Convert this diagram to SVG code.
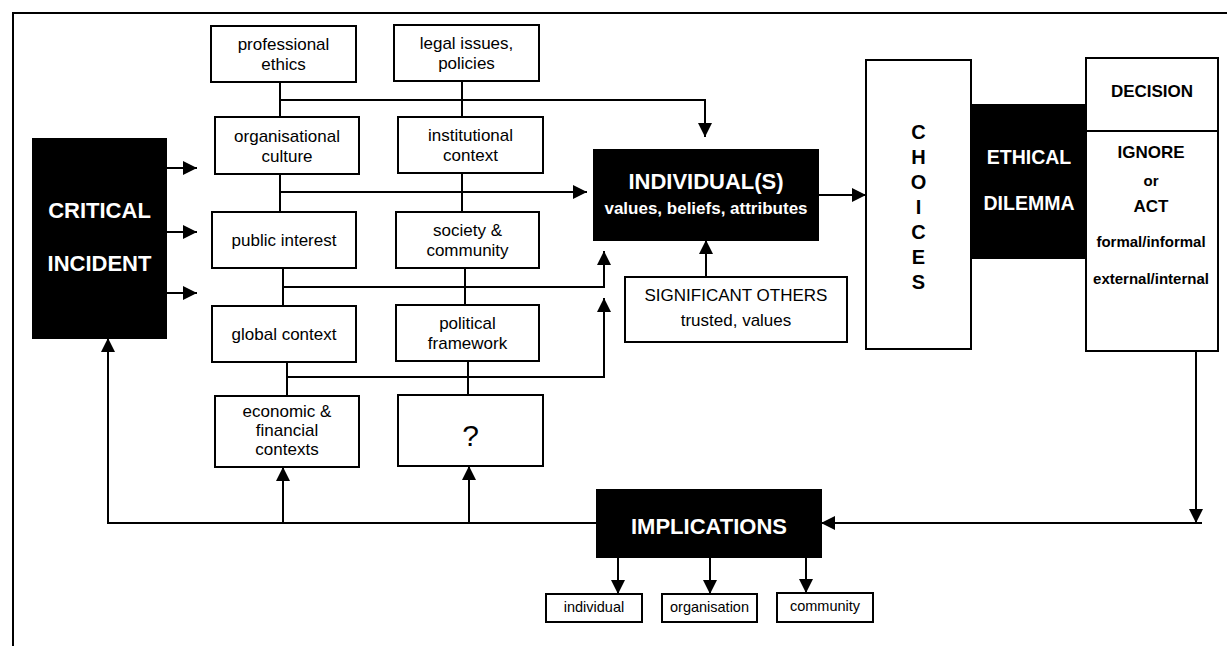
<svg xmlns="http://www.w3.org/2000/svg" width="1227" height="646" viewBox="0 0 1227 646">
<style>
.box{fill:#fff;stroke:#000;stroke-width:2}
.blk{fill:#000;stroke:#000;stroke-width:2}
.t{font-family:"Liberation Sans",Arial,sans-serif;font-size:17px;fill:#000;text-anchor:middle}
.b{font-family:"Liberation Sans",Arial,sans-serif;font-weight:bold;text-anchor:middle}
.w{fill:#fff}
.k{fill:#000}
.ln{fill:none;stroke:#000;stroke-width:2}
.s{font-size:14.5px}
.q{font-size:30px}
</style>
<defs>
<marker id="ah" markerUnits="userSpaceOnUse" markerWidth="14" markerHeight="14" refX="14" refY="7" orient="auto">
<path d="M0,0 L14,7 L0,14 z" fill="#000"/>
</marker>
</defs>
<rect width="1227" height="646" fill="#fff"/>
<path class="ln" d="M13,646 V13 H1227"/>

<g id="connectors">
<path class="ln" d="M280,82 V117"/>
<path class="ln" d="M462,81 V117"/>
<path class="ln" d="M280,100 H705 V137" marker-end="url(#ah)"/>
<path class="ln" d="M280,174 V212"/>
<path class="ln" d="M462,173 V212"/>
<path class="ln" d="M280,192 H587" marker-end="url(#ah)"/>
<path class="ln" d="M283,268 V306"/>
<path class="ln" d="M465,268 V305"/>
<path class="ln" d="M283,287 H604 V251" marker-end="url(#ah)"/>
<path class="ln" d="M287,362 V396"/>
<path class="ln" d="M468,361 V396"/>
<path class="ln" d="M287,377 H604 V298" marker-end="url(#ah)"/>
<path class="ln" d="M166,168 H197" marker-end="url(#ah)"/>
<path class="ln" d="M166,232 H197" marker-end="url(#ah)"/>
<path class="ln" d="M166,293 H197" marker-end="url(#ah)"/>
<path class="ln" d="M818,195 H866" marker-end="url(#ah)"/>
<path class="ln" d="M706,277 V240" marker-end="url(#ah)"/>
<path class="ln" d="M1196,351 V523" marker-end="url(#ah)"/>
<path class="ln" d="M1202,523 H821" marker-end="url(#ah)"/>
<path class="ln" d="M597,523 H108 V338" marker-end="url(#ah)"/>
<path class="ln" d="M283,524 V467" marker-end="url(#ah)"/>
<path class="ln" d="M469,524 V466" marker-end="url(#ah)"/>
<path class="ln" d="M618,557 V594" marker-end="url(#ah)"/>
<path class="ln" d="M710,557 V594" marker-end="url(#ah)"/>
<path class="ln" d="M806,557 V593" marker-end="url(#ah)"/>
</g>

<g id="critical-incident">
<rect class="blk" x="33" y="139" width="133" height="199"/>
<text class="b w" x="99.5" y="218" font-size="22">CRITICAL</text>
<text class="b w" x="99.5" y="271" font-size="22">INCIDENT</text>
</g>

<g id="professional-ethics">
<rect class="box" x="211" y="26" width="145" height="56"/>
<text class="t" x="283.5" y="50">professional</text>
<text class="t" x="283.5" y="70">ethics</text>
</g>
<g id="legal-issues">
<rect class="box" x="394" y="25" width="145" height="56"/>
<text class="t" x="466.5" y="49">legal issues,</text>
<text class="t" x="466.5" y="69">policies</text>
</g>
<g id="organisational-culture">
<rect class="box" x="215" y="117" width="144" height="57"/>
<text class="t" x="287" y="141.5">organisational</text>
<text class="t" x="287" y="161.5">culture</text>
</g>
<g id="institutional-context">
<rect class="box" x="398" y="117" width="145" height="56"/>
<text class="t" x="470.5" y="141">institutional</text>
<text class="t" x="470.5" y="161">context</text>
</g>
<g id="public-interest">
<rect class="box" x="212" y="212" width="144" height="56"/>
<text class="t" x="284" y="246">public interest</text>
</g>
<g id="society-community">
<rect class="box" x="396" y="212" width="143" height="56"/>
<text class="t" x="467.5" y="236">society &amp;</text>
<text class="t" x="467.5" y="256">community</text>
</g>
<g id="global-context">
<rect class="box" x="212" y="306" width="144" height="56"/>
<text class="t" x="284" y="340">global context</text>
</g>
<g id="political-framework">
<rect class="box" x="396" y="305" width="143" height="56"/>
<text class="t" x="467.5" y="329">political</text>
<text class="t" x="467.5" y="349">framework</text>
</g>
<g id="economic-financial">
<rect class="box" x="215" y="396" width="144" height="71"/>
<text class="t" x="287" y="417">economic &amp;</text>
<text class="t" x="287" y="436">financial</text>
<text class="t" x="287" y="455">contexts</text>
</g>
<g id="unknown">
<rect class="box" x="398" y="395" width="145" height="71"/>
<text class="t q" x="470.5" y="446">?</text>
</g>

<g id="individuals">
<rect class="blk" x="594" y="150" width="224" height="90"/>
<text class="b w" x="706" y="189" font-size="22">INDIVIDUAL(S)</text>
<text class="b w" x="706" y="214" font-size="17">values, beliefs, attributes</text>
</g>
<g id="significant-others">
<rect class="box" x="625" y="277" width="222" height="65"/>
<text class="t" x="736" y="301">SIGNIFICANT OTHERS</text>
<text class="t" x="736" y="326">trusted, values</text>
</g>

<g id="choices">
<rect class="box" x="866" y="60" width="105" height="289"/>
<text class="b k" font-size="20" x="918.5" y="139">C</text>
<text class="b k" font-size="20" x="918.5" y="164">H</text>
<text class="b k" font-size="20" x="918.5" y="189">O</text>
<text class="b k" font-size="20" x="918.5" y="214">I</text>
<text class="b k" font-size="20" x="918.5" y="239">C</text>
<text class="b k" font-size="20" x="918.5" y="264">E</text>
<text class="b k" font-size="20" x="918.5" y="289">S</text>
</g>
<g id="ethical-dilemma">
<rect class="blk" x="972" y="105" width="114" height="153"/>
<text class="b w" x="1029" y="164" font-size="19.5">ETHICAL</text>
<text class="b w" x="1029" y="210" font-size="19.5">DILEMMA</text>
</g>
<g id="decision">
<rect class="box" x="1086" y="58" width="132" height="293"/>
<path class="ln" d="M1086,131 H1218"/>
<text class="b k" x="1152" y="97" font-size="17">DECISION</text>
<text class="b k" x="1151" y="158" font-size="17">IGNORE</text>
<text class="b k" x="1151" y="186" font-size="15">or</text>
<text class="b k" x="1151" y="212" font-size="17">ACT</text>
<text class="b k" x="1151" y="247" font-size="15">formal/informal</text>
<text class="b k" x="1151" y="284" font-size="15">external/internal</text>
</g>

<g id="implications">
<rect class="blk" x="597" y="490" width="224" height="67"/>
<text class="b w" x="709" y="534" font-size="22">IMPLICATIONS</text>
</g>
<g id="impl-individual">
<rect class="box" x="546" y="594" width="96" height="28"/>
<text class="t s" x="594" y="612">individual</text>
</g>
<g id="impl-organisation">
<rect class="box" x="662" y="594" width="95" height="28"/>
<text class="t s" x="709.5" y="612">organisation</text>
</g>
<g id="impl-community">
<rect class="box" x="777" y="593" width="96" height="29"/>
<text class="t s" x="825" y="611">community</text>
</g>
</svg>
